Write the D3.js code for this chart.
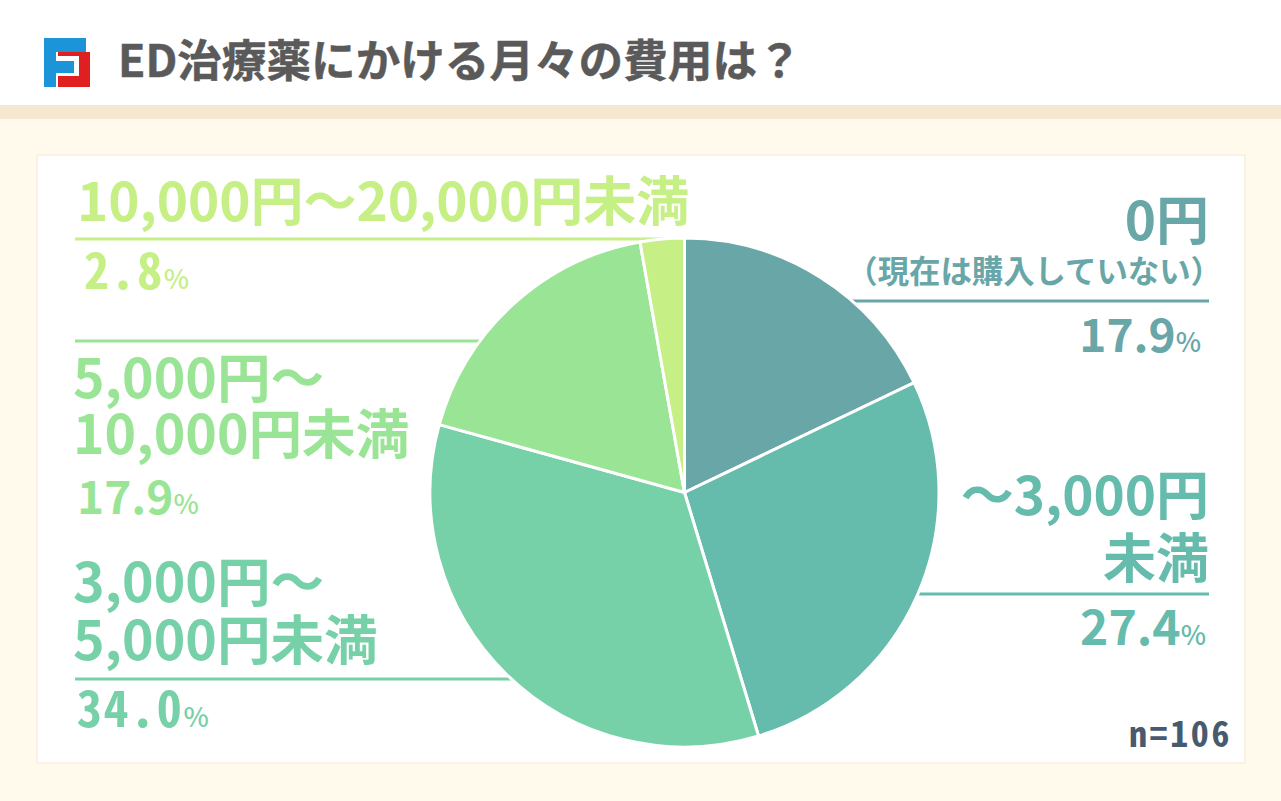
<!DOCTYPE html>
<html><head><meta charset="utf-8">
<script src="https://cdn.jsdelivr.net/npm/d3@7"></script>
<style>html,body{margin:0;padding:0;background:#fffaec;overflow:hidden}svg{display:block}
text{font-family:"Noto Sans CJK JP","Noto Sans",sans-serif;font-weight:700}</style>
</head><body><svg id="c" width="1281" height="801"></svg>
<script>
const title = "ED治療薬にかける月々の費用は？";
const categories = ["0円（現在は購入していない）","～3,000円未満","3,000円～5,000円未満","5,000円～10,000円未満","10,000円～20,000円未満"];
const values = [17.9, 27.4, 34.0, 17.9, 2.8];
const colors = ["#69a6a8","#65bbac","#76d1a8","#9ae496","#c6ef85"];
const sampleSize = "n=106";

const svg = d3.select("#c");
const mono = "'Noto Sans Mono CJK JP','DejaVu Sans Mono',monospace";
svg.append("rect").attr("width",1281).attr("height",801).attr("fill","#fffaec");
svg.append("rect").attr("width",1281).attr("height",105).attr("fill","#fff");
svg.append("rect").attr("y",105).attr("width",1281).attr("height",14).attr("fill","#f5e7d0");
svg.append("rect").attr("x",37).attr("y",155).attr("width",1208).attr("height",608).attr("fill","#fff").attr("stroke","#f7eedd").attr("stroke-width",1.5);

// logo
svg.append("path").attr("fill","#1b95d8").attr("d","M44 38H86V52H56V61H74V73H56V87H44Z");
svg.append("path").attr("fill","#e02020").attr("d","M58 76H79V56H58V52H90V87H58Z");
svg.append("text").text(title).attr("x",118).attr("y",77).attr("font-size",44.6).attr("fill","#5a5a5a").attr("stroke","#5a5a5a").attr("stroke-width",0.5);

// leader rules
const rules = [
 {i:0,x1:850,x2:1209,y:301},
 {i:1,x1:915,x2:1209,y:594},
 {i:2,x1:75,x2:520,y:679},
 {i:3,x1:75,x2:480,y:341},
 {i:4,x1:75,x2:665,y:239}];
svg.selectAll(".r").data(rules).join("line").attr("x1",d=>d.x1).attr("x2",d=>d.x2).attr("y1",d=>d.y).attr("y2",d=>d.y)
 .attr("stroke",d=>colors[d.i]).attr("stroke-width",3);

// pie
const pie = d3.pie().sort(null).value(d=>d)(values);
const arc = d3.arc().innerRadius(0).outerRadius(254.5);
svg.append("g").attr("transform","translate(684.5,492.5)").selectAll("path").data(pie).join("path")
 .attr("d",arc).attr("fill",(d,i)=>colors[i]).attr("stroke","#fff").attr("stroke-width",3);

// labels
const labels = [
 {i:0,t:"0円",x:1209,y:240,s:53,a:"end"},
 {i:0,t:"（現在は購入していない）",x:1222,y:283,s:31.4,a:"end"},
 {i:1,t:"～3,000円",x:1209,y:515,s:53,a:"end"},
 {i:1,t:"未満",x:1209,y:578,s:53,a:"end"},
 {i:2,t:"3,000円～",x:73,y:602,s:53.6,a:"start"},
 {i:2,t:"5,000円未満",x:73,y:660,s:53.6,a:"start"},
 {i:3,t:"5,000円～",x:73,y:398,s:53.6,a:"start"},
 {i:3,t:"10,000円未満",x:73,y:454,s:53.6,a:"start"},
 {i:4,t:"10,000円～20,000円未満",x:77,y:221,s:53,a:"start"}];
svg.selectAll(".l").data(labels).join("text").text(d=>d.t).attr("x",d=>d.x).attr("y",d=>d.y)
 .attr("font-size",d=>d.s).attr("text-anchor",d=>d.a).attr("fill",d=>colors[d.i]);

const pcts = [
 {i:0,x:1201,y:352,a:"end",s:46},
 {i:1,x:1206,y:645,a:"end",s:48},
 {i:2,x:77,y:727,a:"start",s:50,m:1},
 {i:3,x:77,y:514,a:"start",s:46},
 {i:4,x:84,y:289,a:"start",s:50,m:1}];
const pt = svg.selectAll(".p").data(pcts).join("text").attr("x",d=>d.x).attr("y",d=>d.y).attr("text-anchor",d=>d.a).attr("fill",d=>colors[d.i]);
pt.append("tspan").text(d=>values[d.i].toFixed(1)).attr("font-size",d=>d.s).style("font-family",d=>d.m?mono:null).style("letter-spacing",d=>d.m?"1.6px":null);
pt.append("tspan").text("%").attr("font-size",27).attr("font-weight",500);

svg.append("text").text(sampleSize).attr("x",1232).attr("y",747).attr("text-anchor","end").attr("font-size",36).attr("fill","#475a6e").style("font-family",mono).style("letter-spacing","2.6px");
</script></body></html>
